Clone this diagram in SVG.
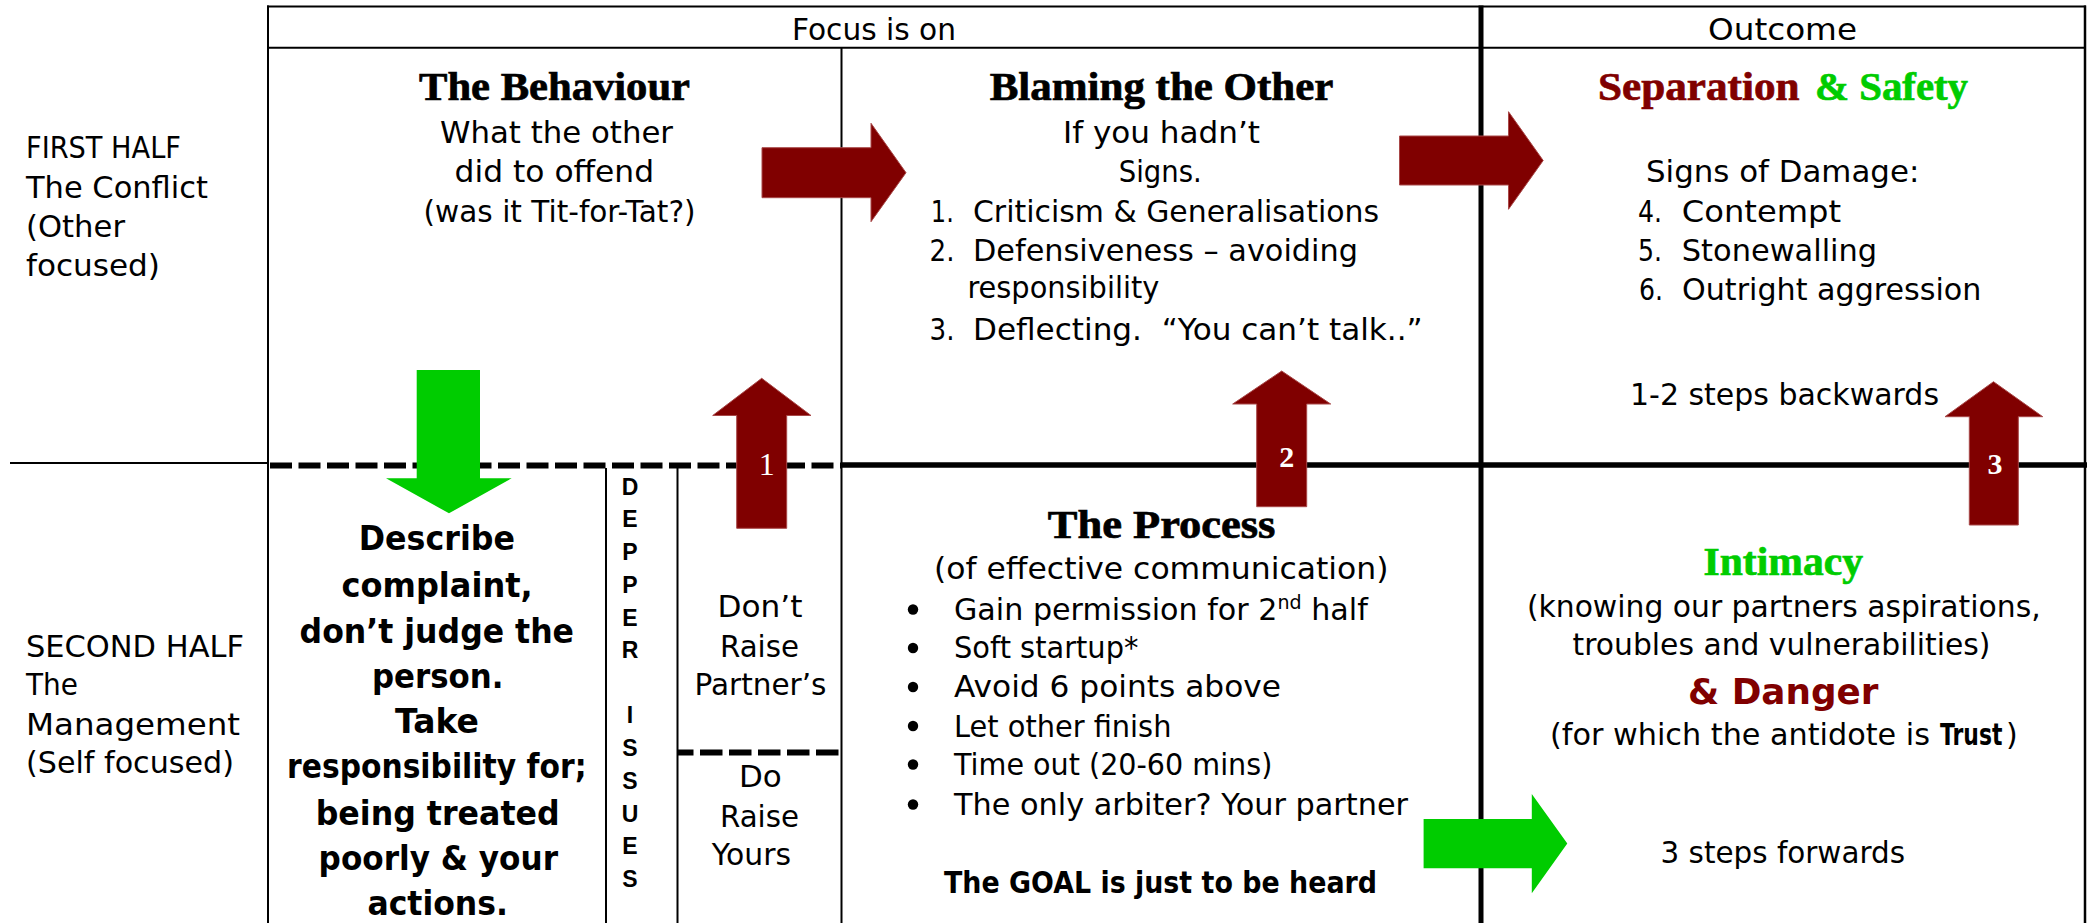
<svg xmlns="http://www.w3.org/2000/svg" width="2091" height="923" viewBox="0 0 2091 923">
  <style>
    .t { font-family: "DejaVu Sans", "Liberation Sans", sans-serif; font-size: 30px; fill: #000; }
    .b { font-family: "DejaVu Sans", "Liberation Sans", sans-serif; font-size: 33px; font-weight: bold; fill: #000; }
    .g { font-family: "DejaVu Sans", "Liberation Sans", sans-serif; font-size: 30px; font-weight: bold; fill: #000; }
    .h { font-family: "Liberation Serif", serif; font-size: 40px; font-weight: bold; fill: #000; stroke: #000; stroke-width: 0.7; }
    .v { font-family: "Liberation Sans", sans-serif; font-size: 23px; font-weight: bold; fill: #000; text-anchor: middle; }
    .num { font-family: "Liberation Serif", serif; fill: #fff; text-anchor: middle; }
    .maroon { fill: #800000; stroke: #800000; }
    .lime { fill: #00cc00; stroke: #00cc00; }
    .danger { font-family: "DejaVu Sans", "Liberation Sans", sans-serif; font-size: 36px; font-weight: bold; fill: #800000; }
    .ln { stroke: #000; fill: none; }
    .red-arrow { fill: #800000; stroke: #a84848; stroke-width: 1; }
    .green-arrow { fill: #00cc00; }
  </style>

  <!-- grid -->
  <g id="grid">
    <line class="ln" x1="267" y1="6.5" x2="2086" y2="6.5" stroke-width="2"/>
    <line class="ln" x1="267" y1="47.7" x2="2086" y2="47.7" stroke-width="2"/>
    <line class="ln" x1="268" y1="5.5" x2="268" y2="923" stroke-width="2"/>
    <line class="ln" x1="841.5" y1="47.7" x2="841.5" y2="923" stroke-width="2"/>
    <line class="ln" x1="1481" y1="5.5" x2="1481" y2="923" stroke-width="5"/>
    <line class="ln" x1="2085" y1="5.5" x2="2085" y2="923" stroke-width="2.5"/>
    <!-- half divider -->
    <line class="ln" x1="10" y1="463" x2="268" y2="463" stroke-width="2"/>
    <line class="ln" x1="270" y1="465.5" x2="841" y2="465.5" stroke-width="6" stroke-dasharray="22 6.5"/>
    <line class="ln" x1="841" y1="465" x2="2087" y2="465" stroke-width="5.5"/>
    <!-- second-half sub columns -->
    <line class="ln" x1="606" y1="468" x2="606" y2="923" stroke-width="2"/>
    <line class="ln" x1="677.5" y1="468" x2="677.5" y2="923" stroke-width="2"/>
    <line class="ln" x1="677.5" y1="752.5" x2="840" y2="752.5" stroke-width="6" stroke-dasharray="22.5 6.5" stroke-dashoffset="6.5"/>
  </g>

  <g id="header">
    <text class="t" x="792" y="39.5" textLength="164" lengthAdjust="spacingAndGlyphs">Focus is on</text>
    <text class="t" x="1708" y="40" textLength="149" lengthAdjust="spacingAndGlyphs">Outcome</text>
  </g>

  <g id="row-first-half">
    <text class="t" x="26" y="158" textLength="155" lengthAdjust="spacingAndGlyphs">FIRST HALF</text>
    <text class="t" x="26" y="198" textLength="182" lengthAdjust="spacingAndGlyphs">The Conflict</text>
    <text class="t" x="26" y="237" textLength="99" lengthAdjust="spacingAndGlyphs">(Other</text>
    <text class="t" x="26" y="276" textLength="134" lengthAdjust="spacingAndGlyphs">focused)</text>
  </g>

  <g id="row-second-half">
    <text class="t" x="26" y="656.7" textLength="218" lengthAdjust="spacingAndGlyphs">SECOND HALF</text>
    <text class="t" x="26" y="695" textLength="52" lengthAdjust="spacingAndGlyphs">The</text>
    <text class="t" x="26" y="735" textLength="214" lengthAdjust="spacingAndGlyphs">Management</text>
    <text class="t" x="26" y="773.3" textLength="208" lengthAdjust="spacingAndGlyphs">(Self focused)</text>
  </g>

  <g id="cell-behaviour">
    <text class="h" x="419" y="100" textLength="271" lengthAdjust="spacingAndGlyphs">The Behaviour</text>
    <text class="t" x="440" y="143.3" textLength="233" lengthAdjust="spacingAndGlyphs">What the other</text>
    <text class="t" x="454.6" y="181.7" textLength="199.5" lengthAdjust="spacingAndGlyphs">did to offend</text>
    <text class="t" x="423.6" y="221.7" textLength="272" lengthAdjust="spacingAndGlyphs">(was it Tit-for-Tat?)</text>
  </g>

  <g id="cell-blaming">
    <text class="h" x="989.7" y="100" textLength="343.7" lengthAdjust="spacingAndGlyphs">Blaming the Other</text>
    <text class="t" x="1063" y="143.3" textLength="197" lengthAdjust="spacingAndGlyphs">If you hadn’t</text>
    <text class="t" x="1118.7" y="181.7" textLength="83" lengthAdjust="spacingAndGlyphs">Signs.</text>
    <text class="t" x="930.8" y="221.7" textLength="23" lengthAdjust="spacingAndGlyphs">1.</text>
    <text class="t" x="973" y="221.7" textLength="406" lengthAdjust="spacingAndGlyphs">Criticism &amp; Generalisations</text>
    <text class="t" x="929.5" y="261" textLength="25" lengthAdjust="spacingAndGlyphs">2.</text>
    <text class="t" x="973" y="261" textLength="385" lengthAdjust="spacingAndGlyphs">Defensiveness – avoiding</text>
    <text class="t" x="967.4" y="298.3" textLength="191.9" lengthAdjust="spacingAndGlyphs">responsibility</text>
    <text class="t" x="929.5" y="340" textLength="25" lengthAdjust="spacingAndGlyphs">3.</text>
    <text class="t" x="973" y="340" textLength="449.7" lengthAdjust="spacingAndGlyphs" xml:space="preserve">Deflecting.  “You can’t talk..”</text>
  </g>

  <g id="cell-separation">
    <text class="h maroon" x="1598" y="100" textLength="201.5" lengthAdjust="spacingAndGlyphs">Separation</text>
    <text class="h lime" x="1815" y="100" textLength="153" lengthAdjust="spacingAndGlyphs">&amp; Safety</text>
    <text class="t" x="1646" y="181.7" textLength="273.3" lengthAdjust="spacingAndGlyphs">Signs of Damage:</text>
    <text class="t" x="1638" y="221.7" textLength="24" lengthAdjust="spacingAndGlyphs">4.</text>
    <text class="t" x="1681.8" y="221.7" textLength="159.2" lengthAdjust="spacingAndGlyphs">Contempt</text>
    <text class="t" x="1638" y="261" textLength="24" lengthAdjust="spacingAndGlyphs">5.</text>
    <text class="t" x="1681.8" y="261" textLength="195.4" lengthAdjust="spacingAndGlyphs">Stonewalling</text>
    <text class="t" x="1639" y="300" textLength="24" lengthAdjust="spacingAndGlyphs">6.</text>
    <text class="t" x="1682" y="300" textLength="299.4" lengthAdjust="spacingAndGlyphs">Outright aggression</text>
    <text class="t" x="1630" y="405" textLength="309" lengthAdjust="spacingAndGlyphs">1-2 steps backwards</text>
  </g>

  <g id="cell-describe">
    <text class="b" x="358.8" y="550" textLength="156.2" lengthAdjust="spacingAndGlyphs">Describe</text>
    <text class="b" x="341.5" y="596.7" textLength="191.2" lengthAdjust="spacingAndGlyphs">complaint,</text>
    <text class="b" x="299.6" y="642.7" textLength="274.4" lengthAdjust="spacingAndGlyphs">don’t judge the</text>
    <text class="b" x="372" y="688.3" textLength="131.4" lengthAdjust="spacingAndGlyphs">person.</text>
    <text class="b" x="395" y="733.3" textLength="84" lengthAdjust="spacingAndGlyphs">Take</text>
    <text class="b" x="287" y="778.3" textLength="299.6" lengthAdjust="spacingAndGlyphs">responsibility for;</text>
    <text class="b" x="315.7" y="825" textLength="244" lengthAdjust="spacingAndGlyphs">being treated</text>
    <text class="b" x="318.6" y="870" textLength="239.4" lengthAdjust="spacingAndGlyphs">poorly &amp; your</text>
    <text class="b" x="367.4" y="915" textLength="140.6" lengthAdjust="spacingAndGlyphs">actions.</text>
  </g>

  <!-- vertical caption, one letter per line -->
  <g id="cell-deeper-issues">
    <text class="v" x="630" y="495">D</text>
    <text class="v" x="630" y="527.3">E</text>
    <text class="v" x="630" y="560">P</text>
    <text class="v" x="630" y="593.3">P</text>
    <text class="v" x="630" y="626">E</text>
    <text class="v" x="630" y="658.3">R</text>
    <text class="v" x="630" y="723.3">I</text>
    <text class="v" x="630" y="756">S</text>
    <text class="v" x="630" y="789.3">S</text>
    <text class="v" x="630" y="821.7">U</text>
    <text class="v" x="630" y="854.3">E</text>
    <text class="v" x="630" y="886.7">S</text>
  </g>

  <g id="cell-partner">
    <text class="t" x="717.5" y="616.7" textLength="85" lengthAdjust="spacingAndGlyphs">Don’t</text>
    <text class="t" x="720" y="656.7" textLength="79" lengthAdjust="spacingAndGlyphs">Raise</text>
    <text class="t" x="694.5" y="695" textLength="132" lengthAdjust="spacingAndGlyphs">Partner’s</text>
    <text class="t" x="739" y="786.7" textLength="42.8" lengthAdjust="spacingAndGlyphs">Do</text>
    <text class="t" x="720" y="826.7" textLength="79" lengthAdjust="spacingAndGlyphs">Raise</text>
    <text class="t" x="711.8" y="865" textLength="79.2" lengthAdjust="spacingAndGlyphs">Yours</text>
  </g>

  <g id="cell-process">
    <text class="h" x="1047.8" y="538.3" textLength="227.6" lengthAdjust="spacingAndGlyphs">The Process</text>
    <text class="t" x="934" y="579" textLength="454.4" lengthAdjust="spacingAndGlyphs">(of effective communication)</text>
    <circle cx="913" cy="609.5" r="5.2"/>
    <circle cx="913" cy="648" r="5.2"/>
    <circle cx="913" cy="687" r="5.2"/>
    <circle cx="913" cy="726" r="5.2"/>
    <circle cx="913" cy="764.5" r="5.2"/>
    <circle cx="913" cy="804.5" r="5.2"/>
    <text class="t" x="954" y="620" textLength="413.8" lengthAdjust="spacingAndGlyphs">Gain permission for 2<tspan font-size="19" dy="-11">nd</tspan><tspan dy="11"> half</tspan></text>
    <text class="t" x="954" y="658.3" textLength="184.4" lengthAdjust="spacingAndGlyphs">Soft startup*</text>
    <text class="t" x="954" y="697.3" textLength="327" lengthAdjust="spacingAndGlyphs">Avoid 6 points above</text>
    <text class="t" x="954" y="736.7" textLength="217.4" lengthAdjust="spacingAndGlyphs">Let other finish</text>
    <text class="t" x="954" y="775" textLength="318.3" lengthAdjust="spacingAndGlyphs">Time out (20-60 mins)</text>
    <text class="t" x="954" y="815" textLength="454" lengthAdjust="spacingAndGlyphs">The only arbiter? Your partner</text>
    <text class="g" x="944" y="893.3" textLength="433" lengthAdjust="spacingAndGlyphs">The GOAL is just to be heard</text>
  </g>

  <g id="cell-intimacy">
    <text class="h lime" x="1703.5" y="575" textLength="159.5" lengthAdjust="spacingAndGlyphs">Intimacy</text>
    <text class="t" x="1526.9" y="616.7" textLength="513.8" lengthAdjust="spacingAndGlyphs">(knowing our partners aspirations,</text>
    <text class="t" x="1572.6" y="655" textLength="417.8" lengthAdjust="spacingAndGlyphs">troubles and vulnerabilities)</text>
    <text class="danger" x="1688" y="704" textLength="190.4" lengthAdjust="spacingAndGlyphs">&amp; Danger</text>
    <text class="t" x="1550" y="745" textLength="380" lengthAdjust="spacingAndGlyphs">(for which the antidote is</text>
    <!-- condensed bold word -->
    <text class="g" transform="translate(1940 745) scale(0.73 1)">Trust</text>
    <text class="t" x="2006" y="745">)</text>
    <text class="t" x="1660.5" y="863.3" textLength="244.5" lengthAdjust="spacingAndGlyphs">3 steps forwards</text>
  </g>

  <!-- block arrows -->
  <g id="connectors">
    <polygon class="red-arrow" points="762,147.7 871,147.7 871,123.3 906,172.7 871,221.7 871,197.7 762,197.7"/>
    <polygon class="red-arrow" points="1399.5,136 1508.5,136 1508.5,111.7 1543.2,160.5 1508.5,209.3 1508.5,185 1399.5,185"/>
    <polygon class="green-arrow" points="1423.6,819 1531.8,819 1531.8,794 1567.3,843.6 1531.8,893.3 1531.8,868.3 1423.6,868.3"/>
    <polygon class="green-arrow" points="416.7,370 480,370 480,478.3 511.7,478.3 449,513.3 386,478.3 416.7,478.3"/>
    <polygon class="red-arrow" points="736.7,528.3 736.7,415.5 712.7,415.5 761.7,378.3 811,415.5 786.7,415.5 786.7,528.3"/>
    <polygon class="red-arrow" points="1256.7,506.7 1256.7,404 1232.7,404 1281.7,371 1330.7,404 1306.7,404 1306.7,506.7"/>
    <polygon class="red-arrow" points="1969.3,525 1969.3,416.7 1945,416.7 1993.5,381.7 2042.7,416.7 2018.3,416.7 2018.3,525"/>
    <text class="num" x="766.7" y="475" font-size="32">1</text>
    <text class="num" x="1286.7" y="466.7" font-size="30" font-weight="bold">2</text>
    <text class="num" x="1995" y="474" font-size="30" font-weight="bold">3</text>
  </g>
</svg>
